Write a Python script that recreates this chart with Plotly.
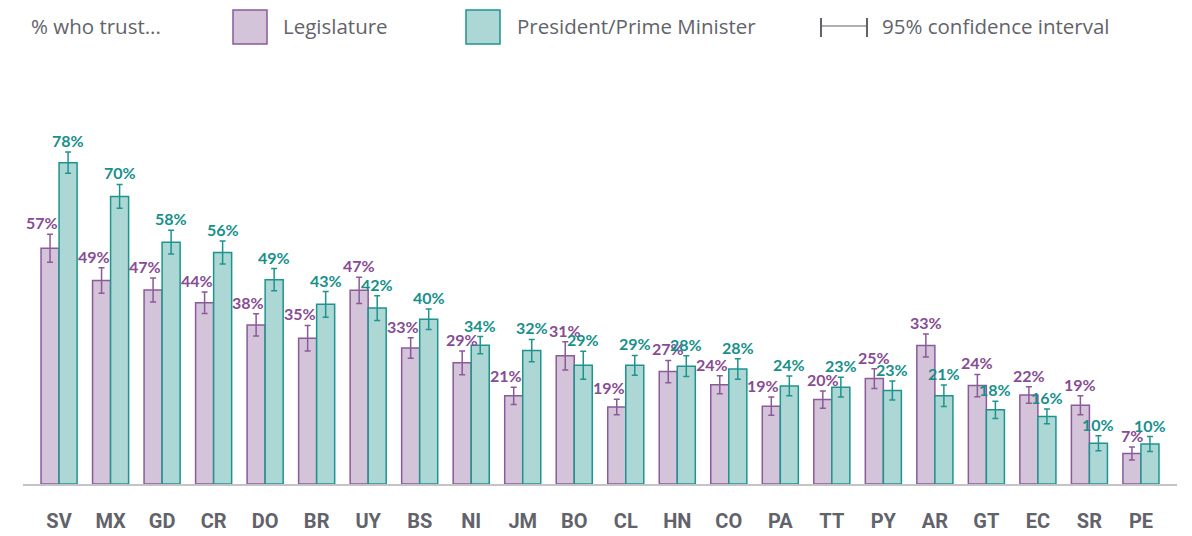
import plotly.graph_objects as go

countries = ["SV", "MX", "GD", "CR", "DO", "BR", "UY", "BS", "NI", "JM", "BO",
             "CL", "HN", "CO", "PA", "TT", "PY", "AR", "GT", "EC", "SR", "PE"]
legislature = [57.2, 49.4, 47.1, 44.0, 38.6, 35.4, 47.0, 33.0, 29.4, 21.4, 31.1,
               18.7, 27.3, 24.1, 18.9, 20.5, 25.6, 33.6, 23.9, 21.6, 19.1, 7.4]
legislature_ci = [3.4, 3.1, 2.9, 2.6, 2.7, 3.1, 3.2, 2.5, 2.9, 2.1, 3.4,
                  1.9, 2.7, 2.2, 2.2, 2.1, 2.4, 2.8, 2.7, 2.0, 2.3, 1.6]
president = [78.0, 69.8, 58.7, 56.2, 49.6, 43.6, 42.7, 40.0, 33.7, 32.4, 28.8,
             28.8, 28.6, 27.9, 23.8, 23.5, 22.7, 21.4, 18.0, 16.4, 9.9, 9.7]
president_ci = [2.6, 2.9, 2.9, 2.8, 2.7, 3.1, 3.0, 2.5, 2.1, 2.7, 3.4,
                2.4, 2.5, 2.5, 2.4, 2.4, 2.3, 2.6, 2.1, 1.8, 1.8, 1.8]
leg_labels = ["57%", "49%", "47%", "44%", "38%", "35%", "47%", "33%", "29%", "21%", "31%",
              "19%", "27%", "24%", "19%", "20%", "25%", "33%", "24%", "22%", "19%", "7%"]
pres_labels = ["78%", "70%", "58%", "56%", "49%", "43%", "42%", "40%", "34%", "32%", "29%",
               "29%", "28%", "28%", "24%", "23%", "23%", "21%", "18%", "16%", "10%", "10%"]

LEG_FILL, LEG_LINE, LEG_TXT = "#d3c4d9", "#8b5a9b", "#874c93"
PRES_FILL, PRES_LINE, PRES_TXT = "#acd7d4", "#1e948f", "#17908b"
GRAY = "#62636a"

W, H = 1192, 536
ML, MR, MT, MB = 23, 15, 100, 52
PW = W - ML - MR
PH = H - MT - MB
XR = [-0.7, 21.7]
BARGAP = 0.30
band = PW / (XR[1] - XR[0])
bar_w = band * (1 - BARGAP) / 2

fig = go.Figure()
fig.add_trace(go.Bar(
    x=countries, y=legislature, name="Legislature",
    marker=dict(color=LEG_FILL, line=dict(color=LEG_LINE, width=1.5)),
    error_y=dict(type="data", array=legislature_ci, color=LEG_LINE, thickness=1.5, width=3),
    hoverinfo="skip",
))
fig.add_trace(go.Bar(
    x=countries, y=president, name="President/Prime Minister",
    marker=dict(color=PRES_FILL, line=dict(color=PRES_LINE, width=1.5)),
    error_y=dict(type="data", array=president_ci, color=PRES_LINE, thickness=1.5, width=3),
    hoverinfo="skip",
))

LBL_FONT = dict(family="Lato, Roboto, sans-serif", size=16)
for i, c in enumerate(countries):
    top_leg = legislature[i] + legislature_ci[i]
    shift = -bar_w / 2
    if president[i] > top_leg + 1.5:
        shift -= 8
    fig.add_annotation(x=c, y=top_leg, text=f"<b>{leg_labels[i]}</b>", showarrow=False,
                       xref="x", yref="y", yanchor="bottom", xanchor="center",
                       xshift=shift, yshift=0, font=dict(color=LEG_TXT, **LBL_FONT))
    top_pres = president[i] + president_ci[i]
    fig.add_annotation(x=c, y=top_pres, text=f"<b>{pres_labels[i]}</b>", showarrow=False,
                       xref="x", yref="y", yanchor="bottom", xanchor="center",
                       xshift=bar_w / 2, yshift=0, font=dict(color=PRES_TXT, **LBL_FONT))

# custom legend (in paper coordinates)
def px_x(p):
    return (p - ML) / PW

def px_y(p):
    return (H - MB - p) / PH

LEGEND_FONT = dict(family="Open Sans, Lato, sans-serif", size=20.5, color=GRAY)
leg_y = px_y(26)
fig.add_annotation(x=px_x(29), y=leg_y, xref="paper", yref="paper", text="% who trust...",
                   showarrow=False, xanchor="left", yanchor="middle", font=LEGEND_FONT)
fig.add_shape(type="rect", xref="paper", yref="paper", x0=px_x(233), x1=px_x(267),
              y0=px_y(44), y1=px_y(10), fillcolor=LEG_FILL, line=dict(color=LEG_LINE, width=1.5))
fig.add_annotation(x=px_x(281), y=leg_y, xref="paper", yref="paper", text="Legislature",
                   showarrow=False, xanchor="left", yanchor="middle", font=LEGEND_FONT)
fig.add_shape(type="rect", xref="paper", yref="paper", x0=px_x(466), x1=px_x(500),
              y0=px_y(44), y1=px_y(10), fillcolor=PRES_FILL, line=dict(color=PRES_LINE, width=1.5))
fig.add_annotation(x=px_x(515), y=leg_y, xref="paper", yref="paper", text="President/Prime Minister",
                   showarrow=False, xanchor="left", yanchor="middle", font=LEGEND_FONT)
for xx in (821, 867):
    fig.add_shape(type="line", xref="paper", yref="paper", x0=px_x(xx), x1=px_x(xx),
                  y0=px_y(37), y1=px_y(18), line=dict(color=GRAY, width=2))
fig.add_shape(type="line", xref="paper", yref="paper", x0=px_x(821), x1=px_x(867),
              y0=px_y(26), y1=px_y(26), line=dict(color=GRAY, width=1.2))
fig.add_annotation(x=px_x(880), y=leg_y, xref="paper", yref="paper", text="95% confidence interval",
                   showarrow=False, xanchor="left", yanchor="middle", font=LEGEND_FONT)

fig.update_layout(
    width=W, height=H,
    margin=dict(l=ML, r=MR, t=MT, b=MB, pad=0, autoexpand=False),
    paper_bgcolor="white", plot_bgcolor="white",
    barmode="group", bargap=BARGAP, bargroupgap=0,
    showlegend=False,
    xaxis=dict(range=XR, showgrid=False, zeroline=False, showline=True, automargin=False,
               linecolor="#c4c4c8", linewidth=1.5,
               ticks="outside", ticklen=18, tickcolor="rgba(0,0,0,0)",
               tickfont=dict(family="Roboto, sans-serif", size=20, color=GRAY, weight="bold")),
    yaxis=dict(range=[0, PH / 4.12], visible=False, showgrid=False, zeroline=False,
               automargin=False),
)

fig.write_html("out.html", config={"displayModeBar": False},
               post_script="document.body.style.margin='0';document.body.style.overflow='hidden';")
